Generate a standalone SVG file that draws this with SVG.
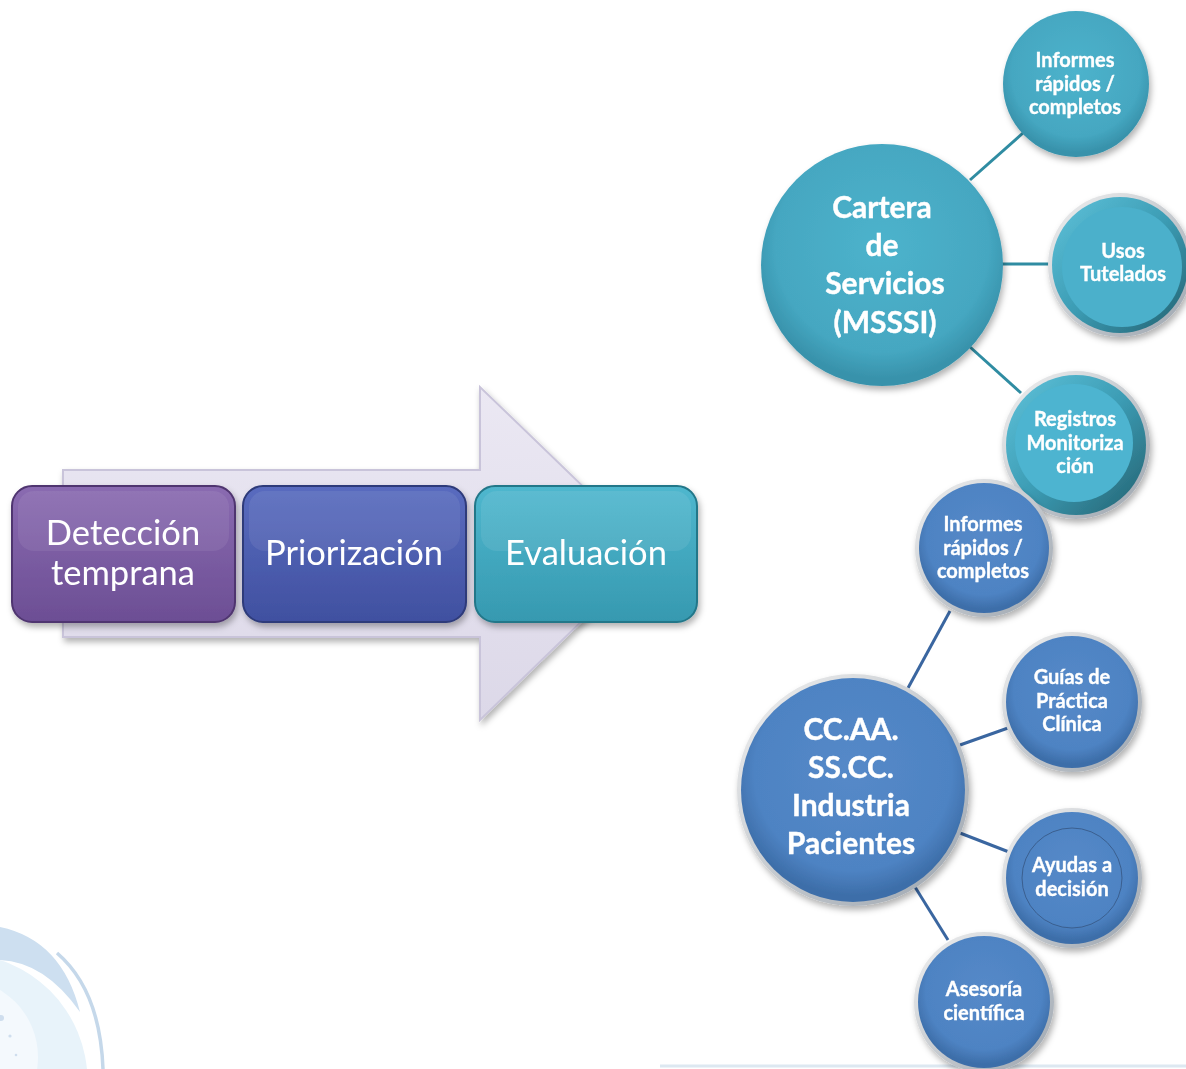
<svg xmlns="http://www.w3.org/2000/svg" width="1186" height="1069" viewBox="0 0 1186 1069">
<defs>
<style>
.box{font-family:Lato,"Open Sans",sans-serif;font-size:34.5px;fill:#fff;text-anchor:middle}
.big{font-family:Lato,"Open Sans",sans-serif;font-weight:bold;font-size:30px;fill:#fff;text-anchor:middle;stroke:#fff;stroke-width:0.4}
.sm{font-family:Lato,"Open Sans",sans-serif;font-weight:bold;font-size:20px;fill:#fff;text-anchor:middle;stroke:#fff;stroke-width:0.35}
.tl{stroke:#2f8ca2;stroke-width:3;fill:none}
.bl{stroke:#3a66a0;stroke-width:3;fill:none}
</style>
<radialGradient id="gTeal" cx="50%" cy="42%" r="55%">
<stop offset="0" stop-color="#4db3cc"/><stop offset="0.8" stop-color="#45a7c1"/><stop offset="1" stop-color="#3892ab"/>
</radialGradient>
<linearGradient id="gTealRing" x1="0" y1="0" x2="1" y2="1">
<stop offset="0" stop-color="#5fc3db"/><stop offset="0.5" stop-color="#3c9cb4"/><stop offset="1" stop-color="#23606f"/>
</linearGradient>
<radialGradient id="gBlue" cx="50%" cy="42%" r="55%">
<stop offset="0" stop-color="#5589c8"/><stop offset="0.8" stop-color="#4e83c3"/><stop offset="1" stop-color="#3d6ea9"/>
</radialGradient>
<linearGradient id="gRim" x1="0" y1="0" x2="1" y2="1">
<stop offset="0" stop-color="#f2f2f2"/><stop offset="1" stop-color="#9aa3ad"/>
</linearGradient>
<linearGradient id="gPur" x1="0" y1="0" x2="0" y2="1">
<stop offset="0" stop-color="#8a6bb1"/><stop offset="1" stop-color="#6c4e94"/>
</linearGradient>
<linearGradient id="gInd" x1="0" y1="0" x2="0" y2="1">
<stop offset="0" stop-color="#5a6cbf"/><stop offset="1" stop-color="#4050a0"/>
</linearGradient>
<linearGradient id="gCya" x1="0" y1="0" x2="0" y2="1">
<stop offset="0" stop-color="#4fb7ce"/><stop offset="1" stop-color="#3699b0"/>
</linearGradient>
<linearGradient id="gArrow" x1="0" y1="0" x2="0" y2="1">
<stop offset="0" stop-color="#ebe8f3"/><stop offset="1" stop-color="#dcd8e8"/>
</linearGradient>
<filter id="sh" x="-20%" y="-20%" width="140%" height="140%">
<feDropShadow dx="2" dy="4" stdDeviation="3" flood-color="#000" flood-opacity="0.3"/>
</filter>
</defs>
<rect width="1186" height="1069" fill="#fff"/>

<!-- background decoration -->
<g id="decor">
<path d="M0,927 Q62,940 80,1012 Q45,962 0,960 Z" fill="#cddff0"/>
<circle cx="-40" cy="1081" r="127.5" fill="#e8f3fa"/>
<circle cx="-40" cy="1057" r="78" fill="#f4f9fd"/>
<path d="M57,953 Q100,990 103,1069" stroke="#c5d8ea" stroke-width="3.5" fill="none"/>
<circle cx="1" cy="1018" r="3" fill="#cfdeee"/>
<circle cx="10" cy="1036" r="1.6" fill="#cfdeee"/>
<circle cx="16" cy="1055" r="1.3" fill="#cfdeee"/>
<line x1="660" y1="1066" x2="1186" y2="1066" stroke="#dde8f1" stroke-width="3"/>
</g>

<!-- big arrow -->
<g id="arrow">
<path d="M63,470 H480 V387 L652,553 L480,720 V637 H63 Z" fill="url(#gArrow)" stroke="#c9c4da" stroke-width="2" filter="url(#sh)"/>
</g>

<g id="connectors">
<line class="tl" x1="970" y1="180" x2="1023" y2="133"/>
<line class="tl" x1="1002" y1="264" x2="1052" y2="264"/>
<line class="tl" x1="970" y1="347" x2="1021" y2="393"/>
<line class="bl" x1="908" y1="688" x2="950" y2="611"/>
<line class="bl" x1="960" y1="745" x2="1008" y2="728"/>
<line class="bl" x1="960" y1="833" x2="1009" y2="852"/>
<line class="bl" x1="915" y1="887" x2="948" y2="940"/>
</g>

<g id="deteccion" filter="url(#sh)">
<rect x="12" y="486" width="223" height="136" rx="20" fill="url(#gPur)" stroke="#4f3570" stroke-width="2"/>
<rect x="18" y="491" width="211" height="60" rx="16" fill="#fff" opacity="0.07"/>
<text class="box" x="123" y="545">Detección</text>
<text class="box" x="123" y="585">temprana</text>
</g>
<g id="priorizacion" filter="url(#sh)">
<rect x="243" y="486" width="223" height="136" rx="20" fill="url(#gInd)" stroke="#2d3a7a" stroke-width="2"/>
<rect x="249" y="491" width="211" height="60" rx="16" fill="#fff" opacity="0.07"/>
<text class="box" x="354" y="565">Priorización</text>
</g>
<g id="evaluacion" filter="url(#sh)">
<rect x="475" y="486" width="222" height="136" rx="20" fill="url(#gCya)" stroke="#237789" stroke-width="2"/>
<rect x="481" y="491" width="210" height="60" rx="16" fill="#fff" opacity="0.08"/>
<text class="box" x="586" y="565">Evaluación</text>
</g>

<g id="cartera" filter="url(#sh)">
<circle cx="882" cy="265" r="121" fill="url(#gTeal)"/>
<text class="big" x="882" y="218">Cartera</text>
<text class="big" x="882" y="256">de</text>
<text class="big" x="885" y="294">Servicios</text>
<text class="big" x="885" y="333">(MSSSI)</text>
</g>
<g id="informes1" filter="url(#sh)">
<circle cx="1076" cy="84" r="73" fill="url(#gTeal)"/>
<text class="sm" x="1075" y="67">Informes</text>
<text class="sm" x="1075" y="91">rápidos /</text>
<text class="sm" x="1075" y="114">completos</text>
</g>
<g id="usos" filter="url(#sh)">
<circle cx="1120" cy="265" r="72" fill="url(#gRim)"/>
<circle cx="1120" cy="265" r="68" fill="url(#gTealRing)"/>
<circle cx="1122" cy="267" r="60" fill="#4bb0cb"/>
<text class="sm" x="1123" y="258">Usos</text>
<text class="sm" x="1123" y="281">Tutelados</text>
</g>
<g id="registros" filter="url(#sh)">
<circle cx="1076" cy="445" r="74" fill="url(#gRim)"/>
<circle cx="1076" cy="445" r="70" fill="url(#gTealRing)"/>
<circle cx="1074" cy="443" r="59" fill="#4db4d0"/>
<text class="sm" x="1075" y="426">Registros</text>
<text class="sm" x="1075" y="450">Monitoriza</text>
<text class="sm" x="1075" y="473">ción</text>
</g>

<g id="ccaa" filter="url(#sh)">
<circle cx="853" cy="790" r="116" fill="url(#gRim)"/>
<circle cx="853" cy="790" r="112" fill="url(#gBlue)"/>
<text class="big" x="851" y="740">CC.AA.</text>
<text class="big" x="851" y="778">SS.CC.</text>
<text class="big" x="851" y="816">Industria</text>
<text class="big" x="851" y="854">Pacientes</text>
</g>
<g id="informes2" filter="url(#sh)">
<circle cx="984" cy="548" r="69" fill="url(#gRim)"/>
<circle cx="984" cy="548" r="65" fill="url(#gBlue)"/>
<text class="sm" x="983" y="531">Informes</text>
<text class="sm" x="983" y="555">rápidos /</text>
<text class="sm" x="983" y="578">completos</text>
</g>
<g id="guias" filter="url(#sh)">
<circle cx="1072" cy="702" r="70" fill="url(#gRim)"/>
<circle cx="1072" cy="702" r="66" fill="url(#gBlue)"/>
<text class="sm" x="1072" y="684">Guías de</text>
<text class="sm" x="1072" y="708">Práctica</text>
<text class="sm" x="1072" y="731">Clínica</text>
</g>
<g id="ayudas" filter="url(#sh)">
<circle cx="1072" cy="878" r="70" fill="url(#gRim)"/>
<circle cx="1072" cy="878" r="66" fill="url(#gBlue)"/>
<circle cx="1072" cy="878" r="50" fill="none" stroke="#3a5f8f" stroke-width="1"/>
<text class="sm" x="1072" y="872">Ayudas a</text>
<text class="sm" x="1072" y="896">decisión</text>
</g>
<g id="asesoria" filter="url(#sh)">
<circle cx="984" cy="1002" r="70" fill="url(#gRim)"/>
<circle cx="984" cy="1002" r="66" fill="url(#gBlue)"/>
<text class="sm" x="984" y="996">Asesoría</text>
<text class="sm" x="984" y="1020">científica</text>
</g>
</svg>
